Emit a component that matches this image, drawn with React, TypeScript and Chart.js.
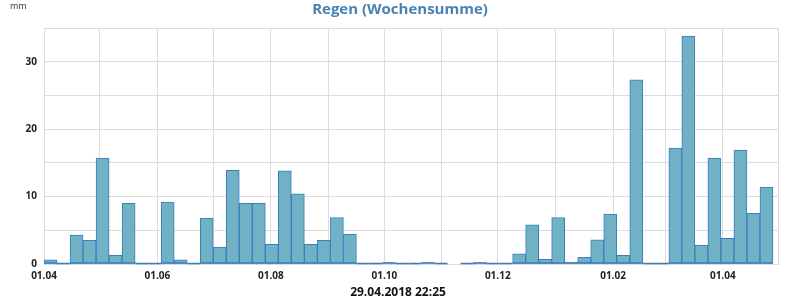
import { useEffect, useRef } from 'react';
import { Chart, registerables } from 'chart.js';

Chart.register(...registerables);

// ---- data ----
const chartTitle = 'Regen (Wochensumme)';
const unitLabel = 'mm';
const timestamp = '29.04.2018 22:25';

// weekly rain sums (mm), one per week starting 01.04.2017; null = no data
const rainWeekly: (number | null)[] = [
  0.6, 0, 4.3, 3.5, 15.7, 1.3, 9.0, 0, 0, 9.2,
  0.6, 0, 6.8, 2.5, 13.9, 9.0, 9.0, 2.9, 13.8, 10.4,
  2.9, 3.5, 6.9, 4.4, 0, 0, 0.2, 0, 0, 0.2,
  0, null, 0, 0.2, 0, 0, 1.5, 5.8, 0.7, 6.9,
  0.3, 1.0, 3.6, 7.4, 1.3, 27.3, 0, 0, 17.2, 33.8,
  2.8, 15.7, 3.8, 16.9, 7.5, 11.4,
];

// month grid lines starting 01.04.2017; labels shown every second month
const monthLabels = [
  '01.04', '01.05', '01.06', '01.07', '01.08', '01.09', '01.10',
  '01.11', '01.12', '01.01', '01.02', '01.03', '01.04',
];
const yMax = 35;
const yStep = 5;
const yLabelStep = 10;
const xMaxDays = 394.7;

const barFill = '#71b1c6';
const barBorder = '#3b7cbc';
const gridColor = '#dcdcdc';
const font = 'Open Sans';

export default function App() {
  const ref = useRef<HTMLCanvasElement>(null);

  useEffect(() => {
    document.body.style.margin = '0';
    const canvas = ref.current;
    if (!canvas) return;
    const DAY = 86400000;
    const start = Date.UTC(2017, 3, 1);
    const monthPos = monthLabels.map((_, i) => (Date.UTC(2017, 3 + i, 1) - start) / DAY);
    const xTicks = [...monthPos, xMaxDays];
    const points = rainWeekly.map((v, i) => ({ x: 7 * i + 3.5, y: v }));

    const extras = {
      id: 'extras',
      afterDatasetsDraw(chart: any) {
        const meta = chart.getDatasetMeta(0);
        const ctx = chart.ctx;
        ctx.save();
        ctx.strokeStyle = barBorder;
        ctx.lineWidth = 1.5;
        meta.data.forEach((el: any, i: number) => {
          if (rainWeekly[i] === null) return;
          const { x, width, base } = el.getProps(['x', 'width', 'base'], true);
          ctx.beginPath();
          ctx.moveTo(x - width / 2, base - 0.5);
          ctx.lineTo(x + width / 2, base - 0.5);
          ctx.stroke();
        });
        ctx.restore();
      },
      afterDraw(chart: any) {
        const ctx = chart.ctx;
        ctx.save();
        ctx.textBaseline = 'middle';
        ctx.font = `9px "${font}"`;
        ctx.fillStyle = '#333';
        ctx.textAlign = 'left';
        ctx.fillText(unitLabel, 10, 6);
        ctx.font = `bold 12px "${font}"`;
        ctx.fillStyle = '#111';
        ctx.textAlign = 'center';
        ctx.fillText(timestamp, chart.width / 2 - 2, 293);
        ctx.restore();
      },
    };

    const chart = new Chart(canvas, {
      type: 'bar',
      data: {
        datasets: [
          {
            data: points as any,
            backgroundColor: barFill,
            borderColor: barBorder,
            borderWidth: 1,
            borderSkipped: false,
            barPercentage: 1,
            categoryPercentage: 1,
          },
        ],
      },
      options: {
        animation: false,
        responsive: false,
        layout: { padding: { left: 0, right: 0, top: 0, bottom: 12 } },
        plugins: {
          legend: { display: false },
          tooltip: { enabled: false },
          title: {
            display: true,
            text: chartTitle,
            color: '#4682b4',
            font: { family: font, size: 15, weight: 'bold' },
            padding: { top: 1, bottom: 9 },
          },
        },
        scales: {
          x: {
            type: 'linear',
            min: 0,
            max: xMaxDays,
            offset: false,
            grid: { color: gridColor, offset: false, drawTicks: false },
            border: { color: gridColor },
            afterBuildTicks: (s: any) => {
              s.ticks = xTicks.map((v) => ({ value: v }));
            },
            afterFit: (s: any) => {
              s.paddingRight = 22;
            },
            ticks: {
              autoSkip: false,
              maxRotation: 0,
              minRotation: 0,
              padding: 6,
              color: '#222',
              font: { family: font, size: 10, weight: 'bold' },
              callback: (_v: any, i: number) =>
                i < monthLabels.length && i % 2 === 0 ? monthLabels[i] : '',
            },
          },
          y: {
            min: 0,
            max: yMax,
            grid: { color: gridColor, drawTicks: false },
            border: { color: gridColor },
            afterFit: (s: any) => {
              s.width = 44;
            },
            ticks: {
              stepSize: yStep,
              padding: 7,
              color: '#222',
              font: { family: font, size: 10, weight: 'bold' },
              callback: (v: any) => (Number(v) % yLabelStep === 0 ? String(v) : ''),
            },
          },
        },
      },
      plugins: [extras],
    });
    return () => chart.destroy();
  }, []);

  return (
    <div style={{ position: 'absolute', left: 0, top: 0, width: 800, height: 300 }}>
      <canvas ref={ref} width={800} height={300} />
    </div>
  );
}
